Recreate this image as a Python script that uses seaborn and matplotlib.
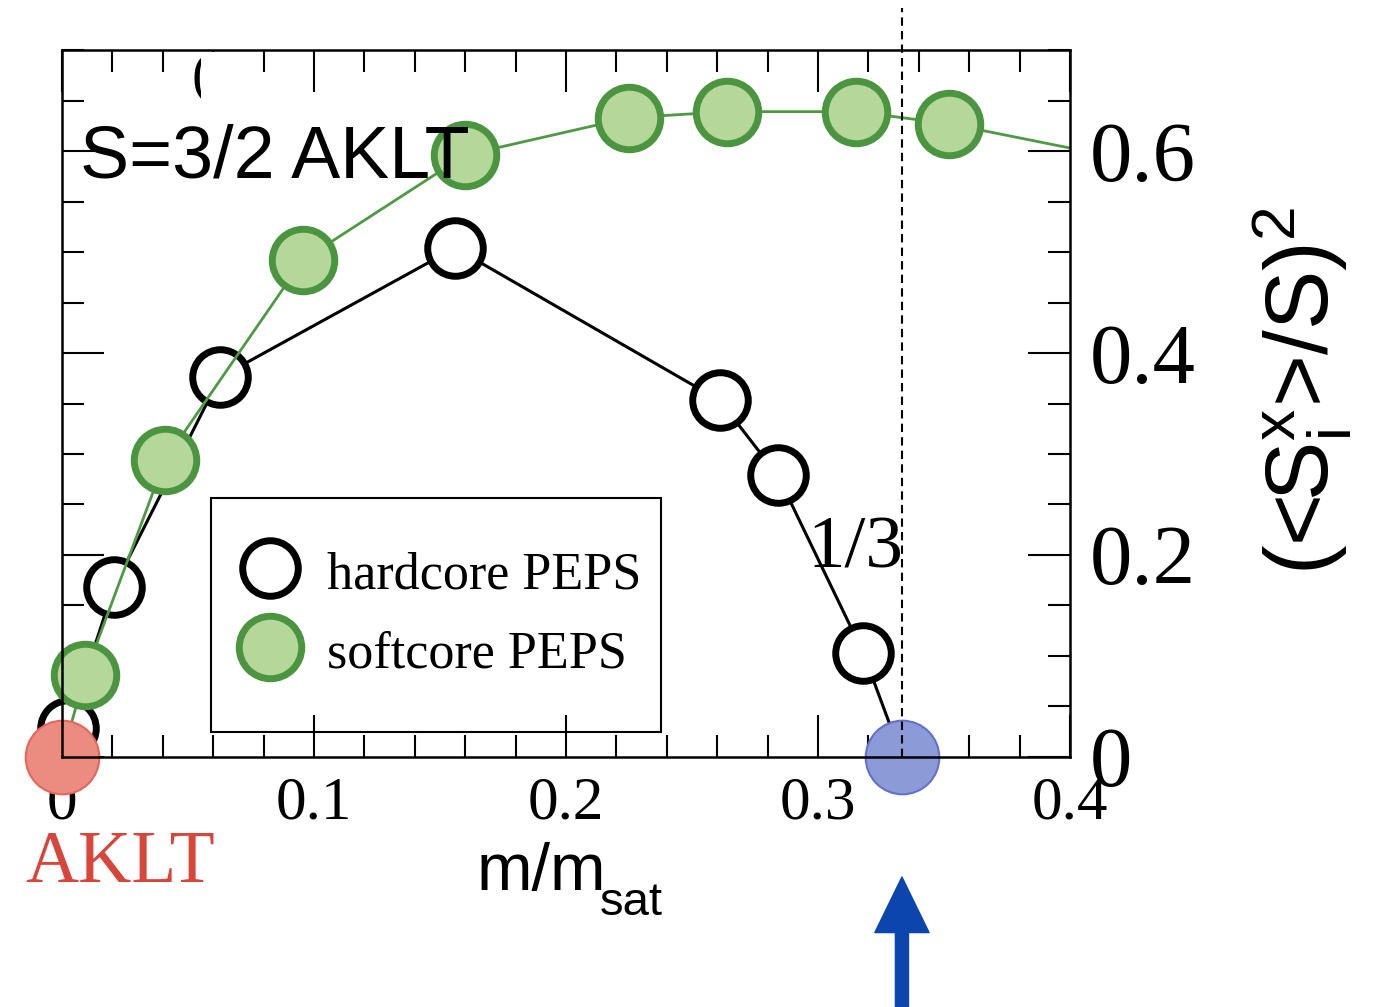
import matplotlib
matplotlib.use("Agg")
import matplotlib.pyplot as plt
from matplotlib.lines import Line2D
from matplotlib.patches import Rectangle
from matplotlib.ticker import MultipleLocator
import seaborn as sns

# hardcore PEPS (open circles), last point sits under the blue 1/3 marker
hard_m = [0.0024, 0.0206, 0.0627, 0.156, 0.261, 0.284, 0.318, 0.3333]
hard_s = [0.029, 0.168, 0.376, 0.504, 0.353, 0.279, 0.103, 0.0]

# softcore PEPS (filled green), first point under the AKLT marker
soft_m = [0.0, 0.0091, 0.0409, 0.0956, 0.160, 0.225, 0.264, 0.315, 0.352, 0.42]
soft_s = [0.0, 0.081, 0.294, 0.492, 0.596, 0.633, 0.639, 0.639, 0.627, 0.593]

aklt_m, aklt_s = [0.0], [0.0]
third_m, third_s = [1 / 3], [0.0]

x_ticks = [0, 0.1, 0.2, 0.3, 0.4]
x_tick_labels = ["0", "0.1", "0.2", "0.3", "0.4"]
y_ticks = [0, 0.2, 0.4, 0.6]
y_tick_labels = ["0", "0.2", "0.4", "0.6"]

sns.set_theme(style="ticks")
plt.rcParams["font.family"] = ["Liberation Serif", "DejaVu Serif"]
plt.rcParams["mathtext.fontset"] = "custom"
plt.rcParams["mathtext.rm"] = "Liberation Sans"
plt.rcParams["mathtext.it"] = "Liberation Sans"
for key in ["text.color", "axes.labelcolor", "xtick.color", "ytick.color"]:
    plt.rcParams[key] = "black"

GREEN_EDGE = "#4b9440"
GREEN_FACE = "#b5d89a"
SANS = ["Liberation Sans", "DejaVu Sans"]

fig = plt.figure(figsize=(13.89, 10.07), dpi=100)
ax = fig.add_axes([0.0446, 0.2483, 0.7257, 0.702])

# dashed line at m/m_sat = 1/3, running above the frame
ax.axvline(1 / 3, ymin=0, ymax=1.059, color="black", lw=1.5,
           dashes=(4, 2.5), clip_on=False, zorder=2.3)

# hardcore
sns.lineplot(x=hard_m, y=hard_s, ax=ax, color="black", lw=2.2, marker="o",
             markersize=40, markerfacecolor="white", markeredgecolor="black",
             markeredgewidth=5, estimator=None, sort=False, clip_on=False,
             zorder=2.0)

# softcore: line clipped at the frame, markers not
sns.lineplot(x=soft_m, y=soft_s, ax=ax, color="#4e9a44", lw=2,
             estimator=None, sort=False, zorder=2.05)
in_range = [i for i, m in enumerate(soft_m) if m <= 0.4]
sns.scatterplot(x=[soft_m[i] for i in in_range], y=[soft_s[i] for i in in_range],
                ax=ax, s=45 ** 2, color=GREEN_FACE, edgecolor=GREEN_EDGE,
                linewidth=5, clip_on=False, zorder=2.1)

# AKLT point and the 1/3 point (below the frame and tick labels)
sns.scatterplot(x=aklt_m, y=aklt_s, ax=ax, s=53 ** 2, color="#ec8b80",
                edgecolor="#e2685c", linewidth=1.5, clip_on=False, zorder=2.2)
sns.scatterplot(x=third_m, y=third_s, ax=ax, s=53 ** 2, color="#8c9ad8",
                edgecolor="#6272c6", linewidth=1.5, clip_on=False, zorder=2.2)

ax.set_xlim(0, 0.4)
ax.set_ylim(0, 0.7)
ax.set_xticks(x_ticks)
ax.set_xticklabels(x_tick_labels)
ax.set_yticks(y_ticks)
ax.set_yticklabels(y_tick_labels)
ax.xaxis.set_minor_locator(MultipleLocator(0.02))
ax.yaxis.set_minor_locator(MultipleLocator(0.05))
ax.yaxis.tick_right()
ax.tick_params(which="both", direction="in", top=True, bottom=True,
               left=True, right=True, labelleft=False, labelright=True,
               width=1.5, color="black", labelcolor="black")
ax.tick_params(which="major", length=30)
ax.tick_params(which="minor", length=16)
ax.tick_params(axis="x", labelsize=44, pad=14)
ax.tick_params(axis="y", labelsize=61, pad=14)
for sp in ax.spines.values():
    sp.set_color("black")
    sp.set_linewidth(1.8)
ax.grid(False)
ax.set_xlabel("")
ax.set_ylabel("")

# legend with its own frame
handles = [
    Line2D([], [], ls="none", marker="o", ms=40, mfc="white", mec="black", mew=5),
    Line2D([], [], ls="none", marker="o", ms=45, mfc=GREEN_FACE, mec=GREEN_EDGE, mew=5),
]
ax.legend(handles, ["hardcore PEPS", "softcore PEPS"], loc="center left",
          bbox_to_anchor=(0.1716, 0.2037), borderaxespad=0, borderpad=0,
          frameon=False, fontsize=37.5, handlelength=1.35, handletextpad=0.42,
          labelspacing=0.5, handleheight=1.0)
ax.add_patch(Rectangle((0.1478, 0.0354), 0.4464, 0.331, transform=ax.transAxes,
                       fill=False, edgecolor="black", lw=1.5, zorder=7))

# axis labels
fig.text(477 / 1389, 1 - 890 / 1007, "m/m", family=SANS, fontsize=48,
         va="baseline")
fig.text(600 / 1389, 1 - 915 / 1007, "sat", family=SANS, fontsize=34,
         va="baseline")
fig.text(1302 / 1389, 1 - 391 / 1007, "(<S$_\\mathrm{i}^\\mathrm{x}$>/S)$^\\mathrm{2}$",
         family=SANS, fontsize=64, rotation=90, ha="center", va="center")

# annotations
fig.text(80 / 1389, 1 - 178 / 1007, "S=3/2 AKLT", family=SANS, fontsize=53,
         va="baseline")
fig.text(807 / 1389, 1 - 568 / 1007, "1/3", fontsize=54, va="baseline")
fig.text(25 / 1389, 1 - 882 / 1007, "AKLT", fontsize=53, color="#d6463a",
         va="baseline")
fig.text(224 / 1389, 1 - 78 / 1007, "(b)", fontsize=40, ha="center", va="center")
fig.patches.append(Rectangle((201 / 1389, 1 - 110 / 1007), 54 / 1389, 58 / 1007,
                             transform=fig.transFigure, facecolor="white",
                             edgecolor="none", zorder=5))

# arrow pointing at the 1/3 point
ax.annotate("", xy=(1 / 3, 1 - 877 / 1007), xycoords=("data", "figure fraction"),
            xytext=(1 / 3, 0.0), textcoords=("data", "figure fraction"),
            arrowprops=dict(width=9.4, headwidth=39, headlength=40,
                            color="#0b45ad", shrink=0),
            annotation_clip=False)

fig.savefig("out.png", dpi=100)
